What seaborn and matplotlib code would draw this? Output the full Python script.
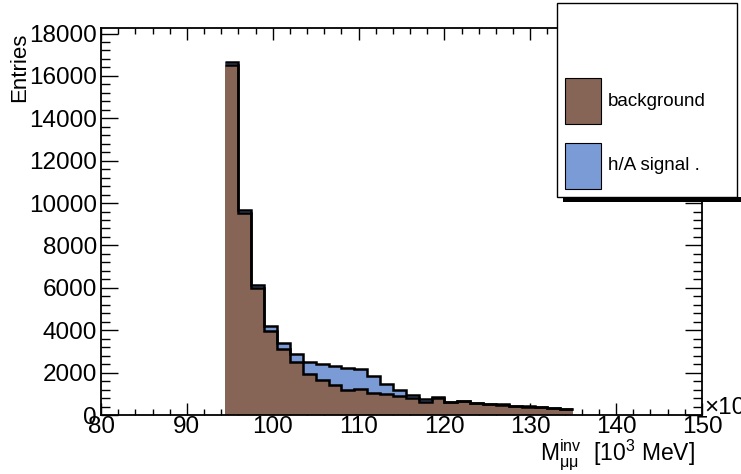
"""
Stacked invariant-mass histogram: background + h/A signal (ROOT-like look).
"""

import numpy as np
import pandas as pd
import matplotlib
matplotlib.use("Agg")
import matplotlib.pyplot as plt
from matplotlib.ticker import MultipleLocator
from matplotlib.patches import Rectangle
import seaborn as sns

# Bin edges: 1.5 wide, 94.5 .. 135 (x 10^3 MeV)
BIN_EDGES = [94.5 + 1.5 * i for i in range(28)]

# Entries per bin
BACKGROUND = [16500, 9540, 5980, 3950, 3130, 2480, 1920, 1660, 1410, 1190,
              1240, 1040, 1000, 880, 780, 600, 800, 590, 650, 545,
              505, 495, 420, 400, 385, 340, 278]
SIGNAL = [140, 140, 170, 250, 270, 380, 570, 740, 880, 1020,
          940, 780, 480, 310, 160, 160, 30, 20, 20, 15,
          15, 10, 10, 10, 10, 10, 7]

COMPONENTS = ["h/A signal .", "background"]
COLORS = {"background": "#866456", "h/A signal .": "#7b9bd6"}

X_MAJOR_TICKS = [80, 90, 100, 110, 120, 130, 140, 150]
Y_MAJOR_TICKS = list(range(0, 18001, 2000))

W, H = 741, 474


def build_frame():
    edges = np.array(BIN_EDGES)
    centers = 0.5 * (edges[:-1] + edges[1:])
    rows = []
    for name, vals in (("background", BACKGROUND), ("h/A signal .", SIGNAL)):
        for c, v in zip(centers, vals):
            rows.append({"mass": c, "entries": v, "component": name})
    return pd.DataFrame(rows)


def main():
    sns.set_style("white")
    plt.rcParams["font.family"] = ["Liberation Sans", "DejaVu Sans"]
    plt.rcParams["mathtext.default"] = "regular"
    plt.rcParams["text.color"] = "black"
    plt.rcParams["xtick.color"] = "black"
    plt.rcParams["ytick.color"] = "black"

    fig = plt.figure(figsize=(W / 100, H / 100), dpi=100)
    ax = fig.add_axes([101 / W, 1 - 415 / H, (702 - 101) / W, (415 - 28) / H])

    df = build_frame()
    sns.histplot(
        data=df,
        x="mass",
        weights="entries",
        hue="component",
        hue_order=COMPONENTS,
        palette=COLORS,
        multiple="stack",
        bins=BIN_EDGES,
        element="step",
        alpha=1,
        linewidth=0,
        legend=False,
        ax=ax,
    )

    # black contours of both stacked histograms
    bg = np.array(BACKGROUND, dtype=float)
    tot = bg + np.array(SIGNAL, dtype=float)
    ax.stairs(bg, BIN_EDGES, baseline=None, color="black", lw=1.8)
    ax.stairs(tot, BIN_EDGES, baseline=None, color="black", lw=1.8)

    ax.set_xlim(80, 150)
    ax.set_ylim(0, 18260)
    ax.set_xticks(X_MAJOR_TICKS)
    ax.set_yticks(Y_MAJOR_TICKS)
    ax.xaxis.set_minor_locator(MultipleLocator(2))
    ax.yaxis.set_minor_locator(MultipleLocator(400))
    ax.set_xlabel("")
    ax.set_ylabel("")

    for s in ax.spines.values():
        s.set_color("black")
        s.set_linewidth(1.3)

    ax.tick_params(which="both", direction="in", bottom=True, left=True,
                   top=True, right=True, color="black", labelcolor="black",
                   width=1.0, labelsize=17.5)
    ax.tick_params(axis="x", which="major", length=8.5, pad=1)
    ax.tick_params(axis="x", which="minor", length=4.3)
    ax.tick_params(axis="y", which="major", length=12, pad=3)
    ax.tick_params(axis="y", which="minor", length=6.3)

    fig.text(20 / W, 1 - 33 / H, "Entries", rotation=90, ha="center",
             va="top", fontsize=16)
    fig.text(695 / W, 1 - 461 / H, r"M$_{μμ}^{inv}$  [10$^{3}$ MeV]",
             ha="right", va="baseline", fontsize=16.5)
    fig.text(704 / W, 1 - 408 / H, "×10", ha="left", va="center",
             fontsize=17.5)

    # ROOT-style legend box with shadow
    fig.patches.append(Rectangle((563 / W, 1 - 202 / H), (741 - 563) / W,
                                 5 / H, transform=fig.transFigure,
                                 facecolor="black", edgecolor="none"))
    fig.patches.append(Rectangle((557 / W, 1 - 197 / H), (737 - 557) / W,
                                 (197 - 3) / H, transform=fig.transFigure,
                                 facecolor="white", edgecolor="black", lw=1))
    entries = [("background", 78, 124), ("h/A signal .", 143, 189)]
    for name, y0, y1 in entries:
        fig.patches.append(Rectangle((565 / W, 1 - y1 / H), 36 / W,
                                     (y1 - y0) / H, transform=fig.transFigure,
                                     facecolor=COLORS[name], edgecolor="black",
                                     lw=0.8))
        fig.text(608 / W, 1 - (y0 + y1) / 2 / H, name, ha="left",
                 va="center", fontsize=13.5)

    fig.savefig("out.png", dpi=100)


if __name__ == "__main__":
    main()
